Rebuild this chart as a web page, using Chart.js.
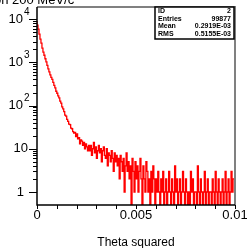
<!DOCTYPE html>
<html>
<head>
<meta charset="utf-8">
<script src="https://cdn.jsdelivr.net/npm/chart.js@4.4.0/dist/chart.umd.min.js"></script>
<style>
  body { margin: 0; background: #fff; }
  canvas { display: block; }
</style>
</head>
<body>
<canvas id="c" width="247" height="248"></canvas>
<script>
// histogram: 200 bins from 0 to 0.01
var binCount = 200;
var xMin = 0, xMax = 0.01;
var counts = [
  9000, 7250, 5850, 4480, 3430, 2770, 2120, 1710, 1455, 1206,
  1027, 851, 706, 601, 512, 448, 402, 343, 292, 255,
  214, 192, 168, 150, 127, 113, 93, 84, 72, 60,
  57, 48, 43, 37, 36, 30, 29, 25, 23, 24,
  19, 22, 17, 18, 13, 16, 15, 12, 14, 10,
  13, 11, 9, 12, 9, 12, 7, 10, 14, 8,
  11, 6, 9, 12, 8, 10, 5, 9, 11, 7,
  6, 10, 4, 8, 7, 5, 9, 6, 3, 8,
  5, 7, 4, 6, 2, 7, 5, 3, 6, 1,
  4, 8, 3, 5, 2, 4, 0, 6, 3, 1,
  5, 2, 4, 1, 3, 6, 2, 0, 4, 2,
  1, 5, 3, 1, 2, 0, 3, 1, 4, 2,
  0, 2, 1, 3, 1, 0, 2, 1, 3, 0,
  1, 2, 0, 1, 3, 1, 0, 2, 1, 0,
  4, 1, 2, 0, 1, 2, 0, 1, 3, 1,
  0, 2, 1, 0, 1, 0, 3, 1, 2, 0,
  1, 1, 0, 4, 1, 0, 2, 1, 0, 1,
  3, 0, 1, 2, 0, 1, 1, 0, 2, 1,
  0, 3, 1, 0, 2, 1, 0, 1, 2, 0,
  1, 3, 0, 1, 2, 0, 1, 3, 1, 2
];
var xTickValues = [0, 0.001, 0.002, 0.003, 0.004, 0.005, 0.006, 0.007, 0.008, 0.009, 0.01];
var xTickLabels = { 0: "0", 5: "0.005", 10: "0.01" };
var yDecades = [0, 1, 2, 3, 4];
var yMin = 0.5, yMax = 19000;
var statNames = ["ID", "Entries", "Mean", "RMS"];
var statValues = ["2", "99877", "0.2919E-03", "0.5155E-03"];
var titleText = "on 200 MeV/c";
var xTitle = "Theta squared";

// step points at bin edges, empty bins go down to the axis
var binWidth = (xMax - xMin) / binCount;
var points = counts.map(function (v, i) {
    return { x: xMin + i * binWidth, y: v > 0 ? v : yMin };
});
points.push({ x: xMax, y: counts[binCount - 1] > 0 ? counts[binCount - 1] : yMin });

var pawFrame = {
    id: "pawFrame",
    afterDatasetsDraw: function (chart) {
        var ctx = chart.ctx, a = chart.chartArea;
        var xs = chart.scales.x, ys = chart.scales.y;
        ctx.save();

        // top / right border
        ctx.strokeStyle = "#808080";
        ctx.lineWidth = 2;
        ctx.beginPath();
        ctx.moveTo(a.left, a.top);
        ctx.lineTo(a.right, a.top);
        ctx.lineTo(a.right, a.bottom);
        ctx.stroke();

        // axes
        ctx.strokeStyle = "#000";
        ctx.lineWidth = 1.5;
        ctx.beginPath();
        ctx.moveTo(a.left, a.top);
        ctx.lineTo(a.left, a.bottom);
        ctx.lineTo(a.right, a.bottom);
        ctx.stroke();

        // x ticks + labels
        ctx.lineWidth = 1;
        ctx.fillStyle = "#000";
        ctx.font = "13px 'Liberation Sans', Arial, sans-serif";
        ctx.textAlign = "center";
        ctx.textBaseline = "middle";
        xTickValues.forEach(function (v, i) {
            var px = Math.round(xs.getPixelForValue(v)) + 0.5;
            ctx.beginPath();
            ctx.moveTo(px, a.bottom);
            ctx.lineTo(px, a.bottom + 4);
            ctx.stroke();
            if (xTickLabels[i] !== undefined) {
                ctx.fillText(xTickLabels[i], xs.getPixelForValue(v), a.bottom + 10);
            }
        });

        // y ticks (log, minor 2..9)
        yDecades.forEach(function (d) {
            for (var m = 1; m <= 9; m++) {
                var v = m * Math.pow(10, d);
                if (v < yMin || v > yMax) continue;
                var py = Math.round(ys.getPixelForValue(v)) + 0.5;
                ctx.beginPath();
                ctx.moveTo(a.left, py);
                ctx.lineTo(a.left - (m === 1 ? 8 : 4), py);
                ctx.stroke();
            }
        });

        // y labels
        ctx.textAlign = "right";
        yDecades.forEach(function (d) {
            var py = ys.getPixelForValue(Math.pow(10, d));
            ctx.font = "13px 'Liberation Sans', Arial, sans-serif";
            if (d === 0) {
                ctx.fillText("1", a.left - 13, py);
            } else if (d === 1) {
                ctx.fillText("10", a.left - 9, py);
            } else {
                ctx.fillText("10", a.left - 14, py);
                ctx.font = "10px 'Liberation Sans', Arial, sans-serif";
                ctx.textAlign = "left";
                ctx.fillText(String(d), a.left - 13, py - 7);
                ctx.textAlign = "right";
            }
        });

        // axis title
        ctx.font = "12px 'Liberation Sans', Arial, sans-serif";
        ctx.textAlign = "center";
        ctx.fillText(xTitle, (a.left + a.right) / 2, a.bottom + 38);

        // title, cut off at top
        ctx.textAlign = "left";
        ctx.textBaseline = "alphabetic";
        ctx.font = "13px 'Liberation Sans', Arial, sans-serif";
        ctx.fillText(titleText, -6, 4);

        // stats box
        var bx = 155, by = a.top, bw = a.right - 1 - bx, bh = 32;
        ctx.fillStyle = "#fff";
        ctx.fillRect(bx, by, bw, bh);
        ctx.strokeStyle = "#000";
        ctx.lineWidth = 1.5;
        ctx.strokeRect(bx, by, bw, bh);
        ctx.fillStyle = "#000";
        ctx.font = "bold 7px 'Liberation Sans Narrow', 'Liberation Sans', Arial, sans-serif";
        ctx.textBaseline = "middle";
        statNames.forEach(function (n, i) {
            var ty = by + 4 + i * 7.7;
            ctx.textAlign = "left";
            ctx.fillText(n, bx + 3, ty);
            ctx.textAlign = "right";
            ctx.fillText(statValues[i], bx + bw - 3, ty);
        });

        ctx.restore();
    }
};

new Chart(document.getElementById("c"), {
    type: "line",
    data: {
        datasets: [{
            data: points,
            stepped: "after",
            borderColor: "#ff0000",
            borderWidth: 1.3,
            pointRadius: 0,
            fill: false
        }]
    },
    options: {
        responsive: false,
        devicePixelRatio: 1,
        animation: false,
        layout: { padding: { left: 37, top: 7, right: 12, bottom: 43 } },
        plugins: { legend: { display: false }, tooltip: { enabled: false } },
        scales: {
            x: {
                type: "linear", min: xMin, max: xMax,
                display: false
            },
            y: {
                type: "logarithmic", min: yMin, max: yMax,
                display: false
            }
        }
    },
    plugins: [pawFrame]
});
</script>
</body>
</html>
